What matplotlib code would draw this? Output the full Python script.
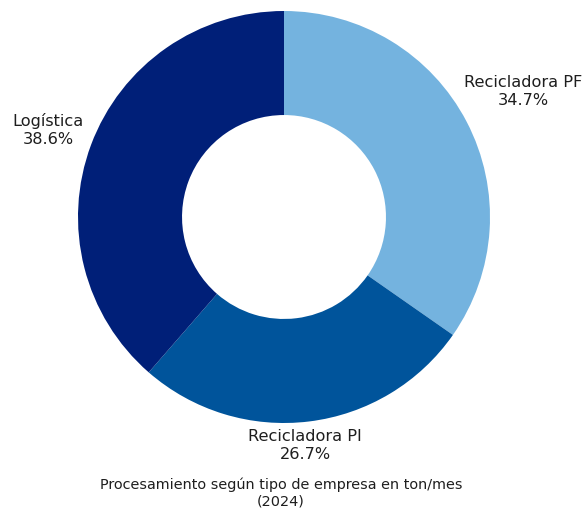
import numpy as np
import matplotlib
matplotlib.use("Agg")
from matplotlib import pyplot as plt

categorias = ["Recicladora PF", "Recicladora PI", "Logística"]
porcentajes = [34.7, 26.7, 38.6]
colores = ["#74b3df", "#00549b", "#001f78"]
titulo = "Procesamiento según tipo de empresa en ton/mes\n(2024)"

plt.rcParams['font.family'] = ['DejaVu Sans']

fig = plt.figure(figsize=(5.87, 5.08), dpi=100)
W, H = 587, 508
cx, cy, r = 284, 217, 206
ax = fig.add_axes([(cx - r) / W, (H - cy - r) / H, 2 * r / W, 2 * r / H])

wedges, _ = ax.pie(porcentajes, colors=colores, startangle=90, counterclock=False,
                   radius=1, wedgeprops=dict(width=0.505, linewidth=0))
ax.set_xlim(-1, 1)
ax.set_ylim(-1, 1)
ax.set_aspect("equal")
ax.axis("off")

for w, cat, p in zip(wedges, categorias, porcentajes):
    ang = np.deg2rad((w.theta1 + w.theta2) / 2)
    x, y = np.cos(ang), np.sin(ang)
    d = 1.08
    if x > 0.3:
        ha, va = "left", "center"
        x, y = d * x - 0.085, d * y + 0.11
    elif x < -0.3:
        ha, va = "right", "center"
        x, y = d * x + 0.04, d * y + 0.045
    else:
        ha, va = "center", "top"
        x, y = d * x - 0.03, d * y + 0.045
    ax.text(x, y, f"{cat}\n{p}%", ha=ha, va=va, multialignment="center",
            fontsize=11.6, color="#1e1e1e", linespacing=1.25, clip_on=False)

fig.text(281 / W, 1 - 493 / H, titulo, ha="center", va="center", fontsize=10.4,
         color="#1e1e1e", linespacing=1.2)

fig.savefig("out.png", dpi=100, facecolor="white")
